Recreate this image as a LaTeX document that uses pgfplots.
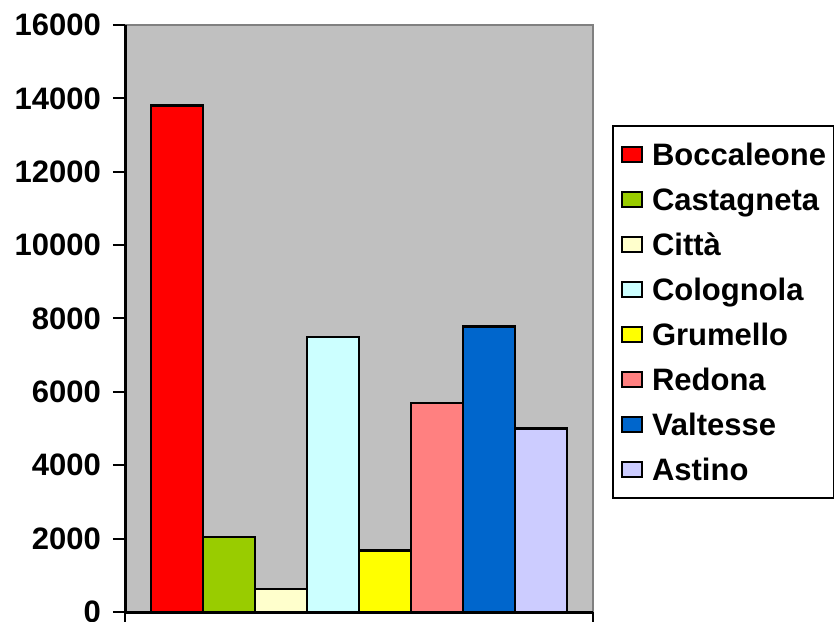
\documentclass[border=0pt]{standalone}
\usepackage{fontspec}
\setmainfont{Liberation Sans}
\usepackage{pgfplots}
\pgfplotsset{compat=1.18}

\definecolor{plotbg}{RGB}{192,192,192}
\definecolor{cBoc}{RGB}{255,0,0}
\definecolor{cCas}{RGB}{153,204,0}
\definecolor{cCit}{RGB}{255,255,204}
\definecolor{cCol}{RGB}{204,255,255}
\definecolor{cGru}{RGB}{255,255,0}
\definecolor{cRed}{RGB}{255,128,128}
\definecolor{cVal}{RGB}{0,102,204}
\definecolor{cAst}{RGB}{204,204,255}

\newcommand{\bigfont}{\bfseries\fontsize{31}{36}\selectfont}

\begin{document}
\begin{tikzpicture}
\useasboundingbox (0,0) rectangle (834pt,621pt);
\begin{axis}[
  at={(125pt,9pt)}, anchor=south west,
  scale only axis, width=468pt, height=587pt,
  xmin=-1, xmax=8, ymin=0, ymax=16000,
  axis x line*=bottom, axis y line*=left,
  x axis line style={-, black, line width=3pt},
  y axis line style={-, black, line width=3pt},
  axis background/.style={fill=plotbg, draw=gray, line width=2pt},
  xtick={-1,8}, xticklabels={},
  ytick={0,2000,...,16000},
  tick align=outside,
  major tick length=12pt,
  tick style={black, line width=2pt},
  scaled y ticks=false,
  /pgf/number format/.cd, 1000 sep={}, assume math mode=true,
  /pgfplots/.cd,
  ticklabel style={font=\bigfont},
  yticklabel style={inner xsep=0pt, xshift=-12pt},
  legend cell align=left,
  legend style={at={(axis description cs:1.0406,0.8296)}, anchor=north west,
    draw=black, line width=2pt, fill=white,
    inner xsep=8pt, inner ysep=9.5pt, row sep=7pt, column sep=9pt,
    nodes={inner sep=0pt, font=\bigfont, text height=30pt, text depth=8pt}},
  legend image code/.code={\draw[#1, line width=2pt] (0pt,-7.5pt) rectangle (20pt,7.5pt);},
  every axis plot/.append style={ybar, bar width=1, bar shift=0pt, draw=black, line width=2.5pt},
]
\addplot[fill=cBoc] coordinates {(0,13800)};
\addlegendentry{Boccaleone}
\addplot[fill=cCas] coordinates {(1,2050)};
\addlegendentry{Castagneta}
\addplot[fill=cCit] coordinates {(2,630)};
\addlegendentry{Città}
\addplot[fill=cCol] coordinates {(3,7490)};
\addlegendentry{Colognola}
\addplot[fill=cGru] coordinates {(4,1670)};
\addlegendentry{Grumello}
\addplot[fill=cRed] coordinates {(5,5690)};
\addlegendentry{Redona}
\addplot[fill=cVal] coordinates {(6,7780)};
\addlegendentry{Valtesse}
\addplot[fill=cAst] coordinates {(7,5000)};
\addlegendentry{Astino}
\end{axis}
\end{tikzpicture}
\end{document}
